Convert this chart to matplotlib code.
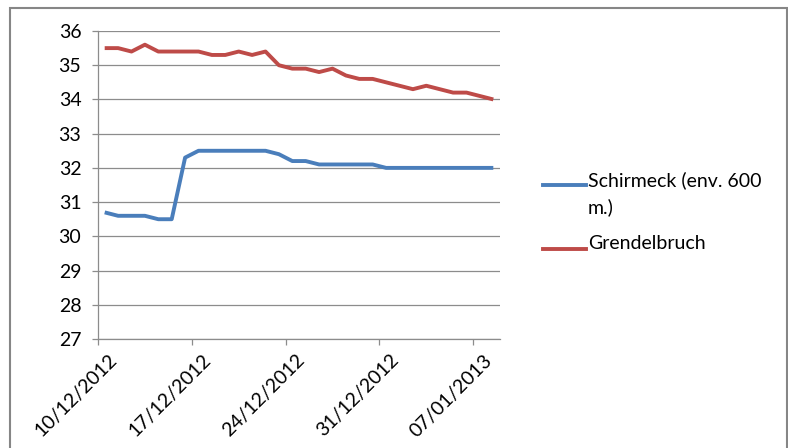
import datetime as dt
import matplotlib
matplotlib.use('Agg')
import matplotlib.pyplot as plt
import matplotlib.dates as mdates
import matplotlib.transforms as mtrans
from matplotlib.lines import Line2D
from matplotlib.patches import Rectangle

plt.rcParams['font.family'] = ['Lato', 'DejaVu Sans']

start = dt.date(2012, 12, 10)
dates = [start + dt.timedelta(days=i) for i in range(30)]

schirmeck = [30.7, 30.6, 30.6, 30.6, 30.5, 30.5, 32.3, 32.5, 32.5, 32.5,
             32.5, 32.5, 32.5, 32.4, 32.2, 32.2, 32.1, 32.1, 32.1, 32.1,
             32.1, 32.0, 32.0, 32.0, 32.0, 32.0, 32.0, 32.0, 32.0, 32.0]
grendelbruch = [35.5, 35.5, 35.4, 35.6, 35.4, 35.4, 35.4, 35.4, 35.3, 35.3,
                35.4, 35.3, 35.4, 35.0, 34.9, 34.9, 34.8, 34.9, 34.7, 34.6,
                34.6, 34.5, 34.4, 34.3, 34.4, 34.3, 34.2, 34.2, 34.1, 34.0]
series_names = ['Schirmeck (env. 600\nm.)', 'Grendelbruch']
colors = ['#4A7EBB', '#BE4B48']
grid_col = '#8C8C8C'
fs = 14

fig = plt.figure(figsize=(7.88, 4.48), dpi=100)
ax = fig.add_axes([98 / 788, 1 - 339 / 448, 402 / 788, 308 / 448])

# Excel date axis: points sit between tick marks
x = mdates.date2num(dates) + 0.5
ax.plot(x, schirmeck, color=colors[0], lw=2.8, solid_capstyle='butt')
ax.plot(x, grendelbruch, color=colors[1], lw=2.8, solid_capstyle='butt')

ax.set_ylim(27, 36)
ax.set_yticks(range(27, 37))
x0 = mdates.date2num(start)
ax.set_xlim(x0, x0 + 30)
ax.set_xticks([x0 + 7 * k for k in range(5)])
ax.xaxis.set_major_formatter(mdates.DateFormatter('%d/%m/%Y'))

ax.grid(axis='y', color=grid_col, lw=0.9)
ax.set_axisbelow(True)
for s in ['top', 'right']:
    ax.spines[s].set_visible(False)
for s in ['left', 'bottom']:
    ax.spines[s].set_color(grid_col)
    ax.spines[s].set_linewidth(0.9)
ax.tick_params(axis='y', length=4, width=0.9, color=grid_col, pad=8, labelsize=fs)
ax.tick_params(axis='x', length=4, width=0.9, color=grid_col, pad=5, labelsize=fs)
shift = mtrans.ScaledTranslation(10 / 100, 0, fig.dpi_scale_trans)
for lab in ax.get_xticklabels():
    lab.set_rotation(45)
    lab.set_ha('right')
    lab.set_va('top')
    lab.set_rotation_mode('anchor')
    lab.set_transform(lab.get_transform() + shift)

# legend drawn by hand, Excel style
leg_y = [1 - 185 / 448, 1 - 249 / 448]
for name, c, y in zip(series_names, colors, leg_y):
    fig.add_artist(Line2D([543 / 788, 586 / 788], [y, y], color=c, lw=2.8,
                          transform=fig.transFigure))
    fig.text(588 / 788, y + 14 / 448, name, fontsize=fs, va='top', ha='left',
             linespacing=1.65)

# chart area border
fig.add_artist(Rectangle((10 / 788, -0.05), 777 / 788, 1.05 - 8 / 448,
                         transform=fig.transFigure, fill=False,
                         edgecolor='#868686', lw=1.5))

fig.savefig('out.png', dpi=100)
